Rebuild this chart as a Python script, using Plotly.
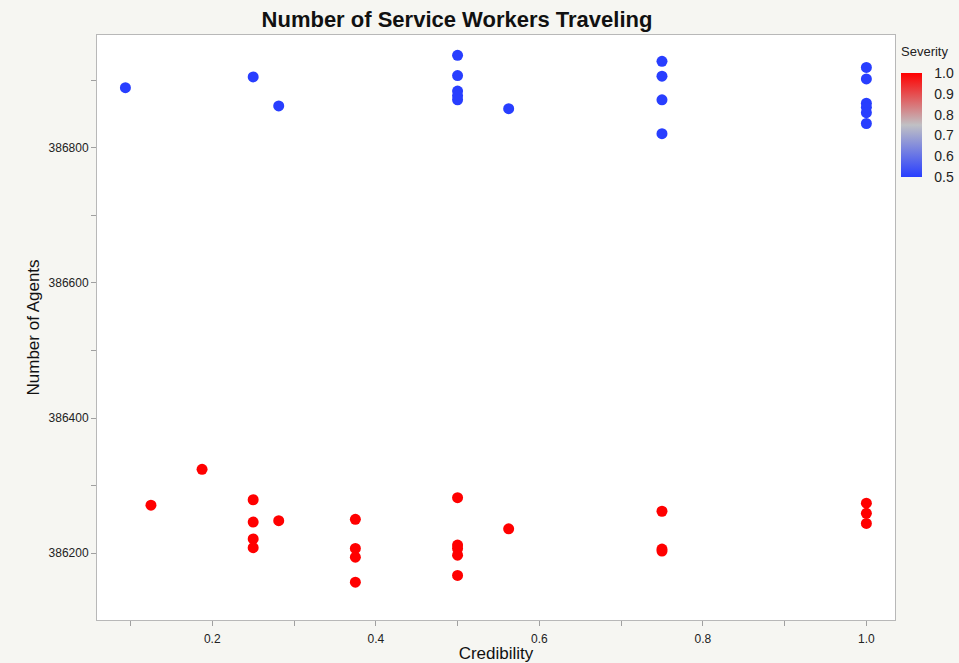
import plotly.graph_objects as go

# Credibility / agent counts for the low-severity runs (severity 0.5)
cred_low = [0.09375, 0.25, 0.28125,
            0.5, 0.5, 0.5, 0.5, 0.5, 0.5625,
            0.75, 0.75, 0.75, 0.75,
            1.0, 1.0, 1.0, 1.0, 1.0, 1.0]
agents_low = [386889, 386905, 386862,
              386937, 386907, 386884, 386877, 386871, 386858,
              386928, 386906, 386871, 386821,
              386919, 386902, 386866, 386860, 386852, 386836]
sev_low = [0.5] * len(cred_low)

# Credibility / agent counts for the high-severity runs (severity 1.0)
cred_high = [0.125, 0.1875, 0.25, 0.25, 0.25, 0.25, 0.28125,
             0.375, 0.375, 0.375, 0.375,
             0.5, 0.5, 0.5, 0.5, 0.5, 0.5625,
             0.75, 0.75, 0.75,
             1.0, 1.0, 1.0]
agents_high = [386271, 386324, 386279, 386246, 386221, 386208, 386248,
               386250, 386207, 386194, 386157,
               386282, 386212, 386207, 386197, 386167, 386236,
               386262, 386206, 386203,
               386274, 386259, 386244]
sev_high = [1.0] * len(cred_high)

x = cred_low + cred_high
y = agents_low + agents_high
severity = sev_low + sev_high

colorscale = [[0.0, "rgb(40,62,255)"], [0.5, "rgb(192,192,196)"], [1.0, "rgb(255,0,0)"]]

W, H = 959, 663
L, R, T, B = 97, 64, 35, 43
plot_w = W - L - R
plot_h = H - T - B

fig = go.Figure(go.Scatter(
    x=x, y=y, mode="markers",
    marker=dict(
        size=11, color=severity, cmin=0.5, cmax=1.0, colorscale=colorscale,
        line=dict(width=0),
        colorbar=dict(
            x=(901 - L) / plot_w, xanchor="left",
            y=(T + plot_h - 125) / plot_h, yanchor="middle",
            lenmode="pixels", len=104, thickness=21,
            ypad=0, xpad=0, outlinewidth=0,
            tickvals=[0.5, 0.6, 0.7, 0.8, 0.9, 1.0],
            ticktext=["0.5", "0.6", "0.7", "0.8", "0.9", "1.0"],
            ticks="outside", ticklen=10, tickcolor="rgba(0,0,0,0)",
            tickfont=dict(family="Liberation Sans", size=14, color="#222"),
        ),
    ),
    hoverinfo="x+y",
))

axis_common = dict(
    showgrid=False, zeroline=False, automargin=False,
    showline=True, linecolor="#b8b8b8", linewidth=1, mirror=True,
    ticks="outside", ticklen=5, tickcolor="#a0a0a0",
    tickfont=dict(family="Liberation Sans", size=12, color="#222"),
)

fig.update_layout(
    width=W, height=H,
    margin=dict(l=L, r=R, t=T, b=B, autoexpand=False),
    paper_bgcolor="rgb(246,246,242)",
    plot_bgcolor="white",
    showlegend=False,
    title=dict(
        text="<b>Number of Service Workers Traveling</b>",
        x=(457 - L) / plot_w, xref="paper", xanchor="center",
        y=1 - 19 / H, yanchor="middle",
        font=dict(family="Liberation Sans", size=22, color="#111"),
    ),
    xaxis=dict(
        **axis_common,
        range=[0.059, 1.035],
        tickvals=[0.2, 0.4, 0.6, 0.8, 1.0],
        ticktext=["0.2", "0.4", "0.6", "0.8", "1.0"],
        ticklabelstandoff=3,
        minor=dict(tickvals=[0.1, 0.3, 0.5, 0.7, 0.9], ticks="outside",
                   ticklen=5, tickcolor="#a0a0a0"),
        title=dict(text="Credibility",
                   font=dict(family="Liberation Sans", size=17, color="#111")),
    ),
    yaxis=dict(
        **axis_common,
        range=[386101, 386967],
        tickvals=[386200, 386400, 386600, 386800],
        ticktext=["386200", "386400", "386600", "386800"],
        minor=dict(tickvals=[386100, 386300, 386500, 386700, 386900],
                   ticks="outside", ticklen=5, tickcolor="#a0a0a0"),
    ),
    annotations=[
        dict(
            text="Severity", xref="paper", yref="paper",
            x=(899 - L) / plot_w, xanchor="left",
            y=(T + plot_h - 51) / plot_h, yanchor="middle",
            showarrow=False,
            font=dict(family="Liberation Sans", size=13, color="#222"),
        ),
        dict(
            text="Number of Agents", xref="paper", yref="paper",
            x=(33 - L) / plot_w, xanchor="center",
            y=0.5, yanchor="middle", textangle=-90,
            showarrow=False,
            font=dict(family="Liberation Sans", size=17, color="#111"),
        ),
    ],
)

fig.write_html("out.html")
